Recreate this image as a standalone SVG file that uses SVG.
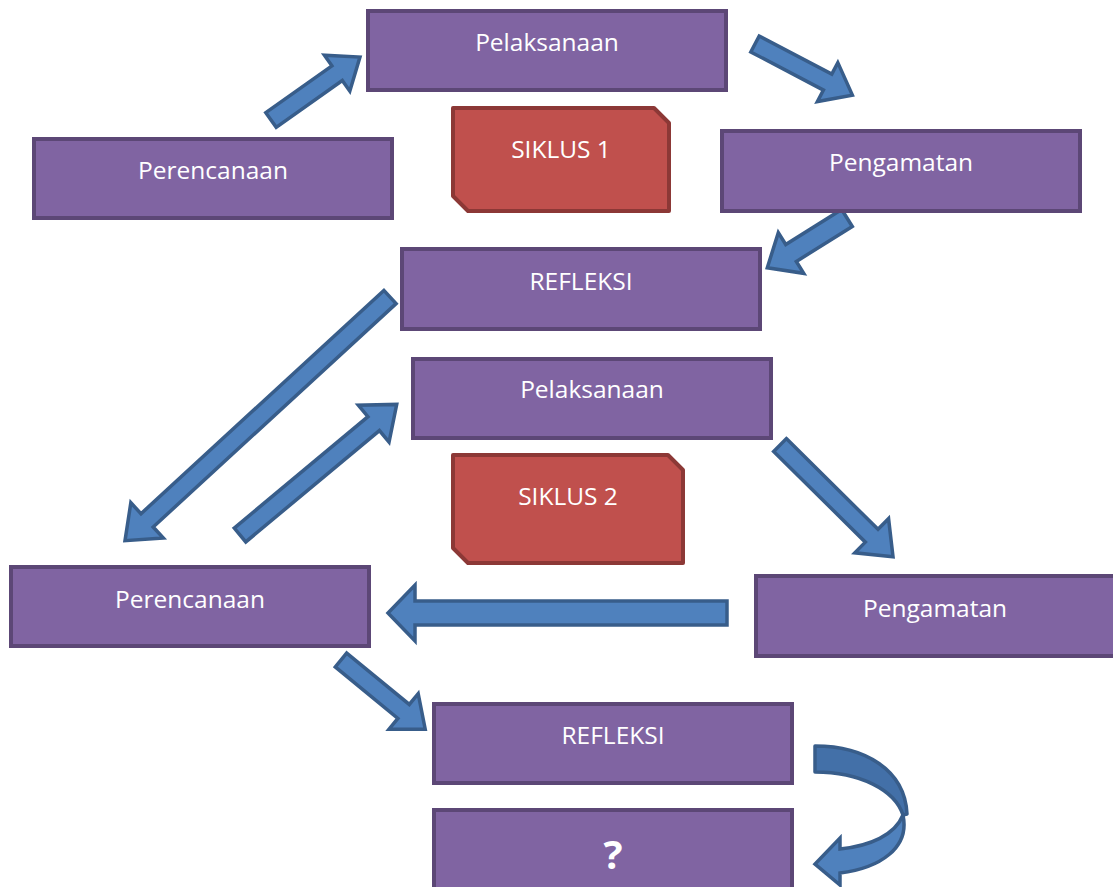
<svg xmlns="http://www.w3.org/2000/svg" width="1113" height="887" viewBox="0 0 1113 887">
<style>
.box{fill:#8064A2;stroke:#5C4776;stroke-width:4}
.sik{fill:#C0504D;stroke:#8C3836;stroke-width:4;stroke-linejoin:round}
.t{font-family:"Open Sans","Liberation Sans",sans-serif;font-size:24.5px;fill:#FFFFFF;text-anchor:middle}
.q{font-family:"Open Sans","Liberation Sans",sans-serif;font-size:40px;font-weight:bold;fill:#FFFFFF;text-anchor:middle}
.arr{fill:#4F81BD;stroke:#385D8A;stroke-width:3.5;stroke-linejoin:miter}
</style>
<rect width="1113" height="887" fill="#FFFFFF"/>
<g id="connectors">
<polygon class="arr" transform="translate(271,120) rotate(-35.3)" points="0,-9 81,-9 81,-22 109,0 81,22 81,9 0,9"/>
<polygon class="arr" transform="translate(755,44) rotate(27.7)" points="0,-9 82,-9 82,-22 110,0 82,22 82,9 0,9"/>
<polygon class="arr" transform="translate(847,218) rotate(148)" points="0,-10 66,-10 66,-24 94,0 66,24 66,10 0,10"/>
<polygon class="arr" transform="translate(390,297) rotate(137.4)" points="0,-9 330,-9 330,-24 360,0 330,24 330,9 0,9"/>
<polygon class="arr" transform="translate(240,535) rotate(-39.8)" points="0,-9 174,-9 174,-24 204,0 174,24 174,9 0,9"/>
<polygon class="arr" transform="translate(780,445) rotate(44.7)" points="0,-9 129,-9 129,-24 159,0 129,24 129,9 0,9"/>
<polygon class="arr" transform="translate(727,613) rotate(180)" points="0,-12 312,-12 312,-28 339,0 312,28 312,12 0,12"/>
<polygon class="arr" transform="translate(341,660) rotate(39.4)" points="0,-9 81,-9 81,-23 109,0 81,23 81,9 0,9"/>
<path class="arr" d="M903,815 C910,848 880,868 840,873 L840,885 L815,864 L840,838 L840,849 C870,846 895,835 903,815 Z"/>
<path d="M815,746 C865,746 905,770 907,814 L903,815 C895,790 860,772 815,772 Z" fill="#4370A8" stroke="#385D8A" stroke-width="3.5" stroke-linejoin="round"/>
</g>
<g id="n-pelaksanaan1"><rect class="box" x="368" y="11" width="358" height="79"/><text class="t" x="547" y="51">Pelaksanaan</text></g>
<g id="n-perencanaan1"><rect class="box" x="34" y="139" width="358" height="79"/><text class="t" x="213" y="179">Perencanaan</text></g>
<g id="n-pengamatan1"><rect class="box" x="722" y="131" width="358" height="80"/><text class="t" x="901" y="171">Pengamatan</text></g>
<g id="n-siklus1"><polygon class="sik" points="453,108 654,108 669,123 669,211 468,211 453,196"/><text class="t" x="561" y="158">SIKLUS 1</text></g>
<g id="n-refleksi1"><rect class="box" x="402" y="249" width="358" height="80"/><text class="t" x="581" y="290">REFLEKSI</text></g>
<g id="n-pelaksanaan2"><rect class="box" x="413" y="359" width="358" height="79"/><text class="t" x="592" y="398">Pelaksanaan</text></g>
<g id="n-siklus2"><polygon class="sik" points="453,455 668,455 683,470 683,563 468,563 453,548"/><text class="t" x="568" y="505">SIKLUS 2</text></g>
<g id="n-perencanaan2"><rect class="box" x="11" y="567" width="358" height="79"/><text class="t" x="190" y="608">Perencanaan</text></g>
<g id="n-pengamatan2"><rect class="box" x="756" y="576" width="360" height="80"/><text class="t" x="935" y="617">Pengamatan</text></g>
<g id="n-refleksi2"><rect class="box" x="434" y="704" width="358" height="79"/><text class="t" x="613" y="744">REFLEKSI</text></g>
<g id="n-question"><rect class="box" x="434" y="810" width="358" height="80"/><text class="q" x="613" y="869">?</text></g>
</svg>
